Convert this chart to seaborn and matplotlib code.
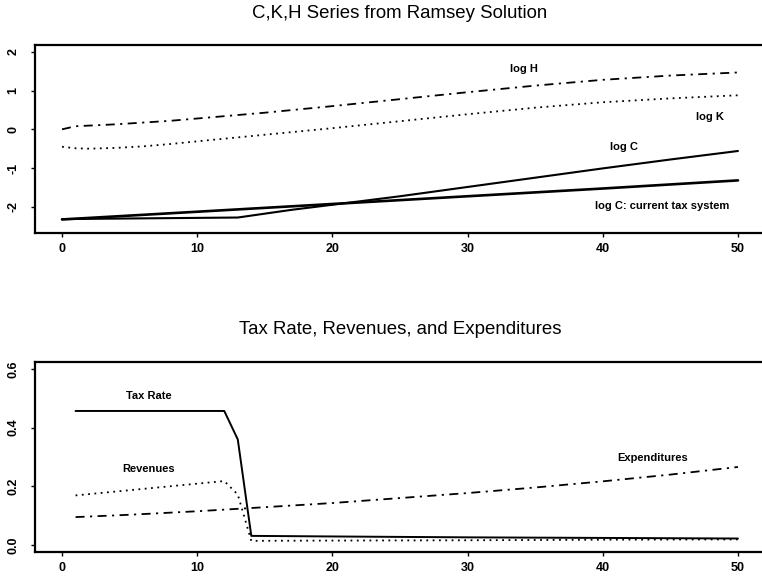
import matplotlib
matplotlib.use("Agg")
import matplotlib.pyplot as plt
import seaborn as sns
import pandas as pd

# ---- data ----
t_H = [0, 1, 4, 8, 10, 15, 20, 25, 30, 35, 40, 45, 50]
log_H = [0.00, 0.08, 0.13, 0.22, 0.28, 0.43, 0.60, 0.78, 0.96, 1.13, 1.28, 1.39, 1.47]

t_K = [0, 1, 2, 4, 6, 8, 10, 15, 20, 25, 30, 35, 40, 45, 50]
log_K = [-0.45, -0.49, -0.50, -0.48, -0.44, -0.38, -0.31, -0.14, 0.03, 0.21, 0.39, 0.56, 0.70, 0.80, 0.88]

t_C = [0, 13, 15, 17, 20, 25, 30, 35, 40, 45, 50]
log_C = [-2.32, -2.28, -2.18, -2.08, -1.95, -1.73, -1.49, -1.25, -1.01, -0.78, -0.56]

t_Ccur = [0, 10, 20, 30, 40, 50]
log_C_current = [-2.33, -2.13, -1.93, -1.73, -1.53, -1.32]

t_tax = [1, 12, 13, 14, 20, 30, 40, 50]
tax_rate = [0.457, 0.457, 0.36, 0.031, 0.029, 0.026, 0.024, 0.022]

t_rev = [1, 12, 13, 14, 20, 30, 40, 50]
revenues = [0.169, 0.218, 0.172, 0.014, 0.015, 0.016, 0.018, 0.019]

t_exp = [1, 5, 10, 14, 20, 25, 30, 35, 40, 45, 50]
expenditures = [0.095, 0.103, 0.115, 0.126, 0.143, 0.160, 0.177, 0.196, 0.217, 0.240, 0.266]

x_ticks = [0, 10, 20, 30, 40, 50]
y_ticks_top = [-2, -1, 0, 1, 2]
y_ticks_bot = [0.0, 0.2, 0.4, 0.6]
y_ticklabels_bot = ["0.0", "0.2", "0.4", "0.6"]

title_top = "C,K,H Series from Ramsey Solution"
title_bot = "Tax Rate, Revenues, and Expenditures"

# ---- styling ----
sns.set_theme(style="white")
plt.rcParams["font.family"] = ["Liberation Sans", "DejaVu Sans"]
plt.rcParams["text.color"] = "black"
plt.rcParams["xtick.color"] = "black"
plt.rcParams["ytick.color"] = "black"

W, H = 762, 585
fig = plt.figure(figsize=(W / 100, H / 100), dpi=100)
ax1 = fig.add_axes([35 / W, 1 - 233 / H, 730 / W, 188 / H])
ax2 = fig.add_axes([35 / W, 1 - 552 / H, 730 / W, 190 / H])

DOTDASH = (0, (5, 3, 1.2, 3))
DOTTED = (0, (1, 2.5))

def line(ax, x, y, ls, lw):
    df = pd.DataFrame({"t": x, "v": y})
    sns.lineplot(data=df, x="t", y="v", ax=ax, color="black",
                 linestyle=ls, linewidth=lw, sort=False, errorbar=None)

# top panel
line(ax1, t_H, log_H, DOTDASH, 1.3)
line(ax1, t_K, log_K, DOTTED, 1.3)
line(ax1, t_Ccur, log_C_current, "-", 1.9)
line(ax1, t_C, log_C, "-", 1.5)

# bottom panel
line(ax2, t_tax, tax_rate, "-", 1.4)
line(ax2, t_rev, revenues, DOTTED, 1.3)
line(ax2, t_exp, expenditures, DOTDASH, 1.3)

for ax in (ax1, ax2):
    ax.set_xlim(-2, 52)
    ax.set_xticks(x_ticks)
    ax.set_xlabel("")
    ax.set_ylabel("")
    for s in ax.spines.values():
        s.set_color("black")
        s.set_linewidth(1.6)
    ax.tick_params(axis="both", which="major", direction="out", length=3,
                   width=1, color="black", labelcolor="black", labelsize=9,
                   bottom=True, left=True)
    ax.tick_params(axis="x", pad=4)
    ax.tick_params(axis="y", pad=8)
    for lab in ax.get_xticklabels() + ax.get_yticklabels():
        lab.set_fontweight("bold")

ax1.set_ylim(-2.68, 2.18)
ax1.set_yticks(y_ticks_top)
ax1.set_yticklabels([str(v) for v in y_ticks_top], rotation=90, va="center",
                    fontweight="bold")

ax2.set_ylim(-0.024, 0.624)
ax2.set_yticks(y_ticks_bot)
ax2.set_yticklabels(y_ticklabels_bot, rotation=90, va="center", fontweight="bold")

ann = dict(ha="center", va="center", fontsize=8, fontweight="bold", color="black")
ax1.text(34.2, 1.56, "log H", **ann)
ax1.text(47.9, 0.33, "log K", **ann)
ax1.text(41.6, -0.45, "log C", **ann)
ax1.text(44.4, -1.99, "log C: current tax system", **ann)

ax2.text(6.4, 0.508, "Tax Rate", **ann)
ax2.text(6.4, 0.258, "Revenues", **ann)
ax2.text(43.7, 0.297, "Expenditures", **ann)

fig.text(400 / W, 1 - 14 / H, title_top, ha="center", va="center", fontsize=13.4)
fig.text(400 / W, 1 - 330 / H, title_bot, ha="center", va="center", fontsize=13.4)

fig.savefig("out.png", dpi=100)
